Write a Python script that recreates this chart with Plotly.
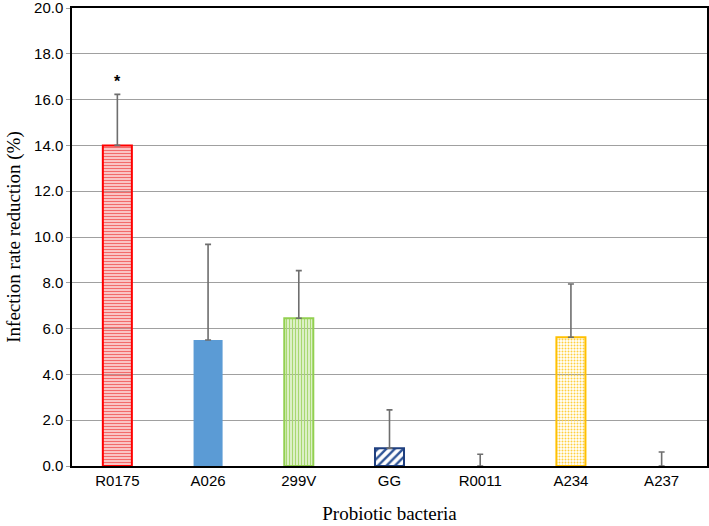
import plotly.graph_objects as go

categories = ["R0175", "A026", "299V", "GG", "R0011", "A234", "A237"]
values = [14.0, 5.5, 6.45, 0.78, 0.0, 5.62, 0.0]
errors = [2.23, 4.18, 2.08, 1.67, 0.51, 2.33, 0.61]
line_colors = ["#FF0000", "#5B9BD5", "#92D050", "#1F3F7F", "#5B9BD5", "#FFC000", "#5B9BD5"]
line_widths = [2, 0, 2, 2, 0, 2, 0]
fill_fg = ["#F26B6B", "#5B9BD5", "#A8D870", "#2F5597", "#5B9BD5", "#FFCF40", "#5B9BD5"]
patterns = ["-", "", "|", "/", "", ".", ""]
y_ticks = [0, 2, 4, 6, 8, 10, 12, 14, 16, 18, 20]
y_tick_text = ["%.1f" % v for v in y_ticks]

fig = go.Figure()
fig.add_trace(go.Bar(
    x=categories, y=values, width=0.32,
    marker=dict(
        color=fill_fg,
        line=dict(color=line_colors, width=line_widths),
        pattern=dict(shape=patterns, bgcolor="#FFFFFF",
                     size=[3, 6, 3, 6, 6, 3, 6], solidity=[0.6, 0.3, 0.6, 0.4, 0.3, 0.35, 0.3],
                     fillmode="replace"),
    ),
    error_y=dict(type="data", array=errors, arrayminus=[0]*len(errors), symmetric=False,
                 color="#6E6E6E", thickness=1.6, width=3),
    showlegend=False,
))

fig.add_annotation(x=categories[0], y=values[0] + errors[0], yshift=13, text="<b>*</b>",
                   showarrow=False, font=dict(family="Liberation Sans", size=16, color="#000000"))

fig.update_layout(
    width=709, height=526,
    margin=dict(l=72, r=2, t=8, b=60, autoexpand=False),
    plot_bgcolor="white", paper_bgcolor="white",
    xaxis=dict(
        showline=True, linecolor="#000000", linewidth=1.5, mirror=True,
        tickfont=dict(family="Liberation Sans", size=15, color="#000000"),
        title=dict(text="Probiotic bacteria", font=dict(family="Liberation Serif", size=19, color="#000000"), standoff=19),
        ticks="", automargin=False,
    ),
    yaxis=dict(
        range=[0, 20.0001], tickvals=y_ticks, ticktext=y_tick_text,
        showgrid=True, gridcolor="#A0A0A0", gridwidth=1,
        showline=True, linecolor="#000000", linewidth=1.5, mirror=True,
        ticks="outside", ticklen=4, tickcolor="#A0A0A0",
        ticklabeloverflow="allow",
        tickfont=dict(family="Liberation Sans", size=15, color="#000000"),
        title=dict(text="Infection rate reduction (%)", font=dict(family="Liberation Serif", size=19, color="#000000"), standoff=8),
        zeroline=False, automargin=False,
    ),
)

fig.write_html("out.html", config={"displayModeBar": False},
               post_script="document.body.style.margin='0px';")
